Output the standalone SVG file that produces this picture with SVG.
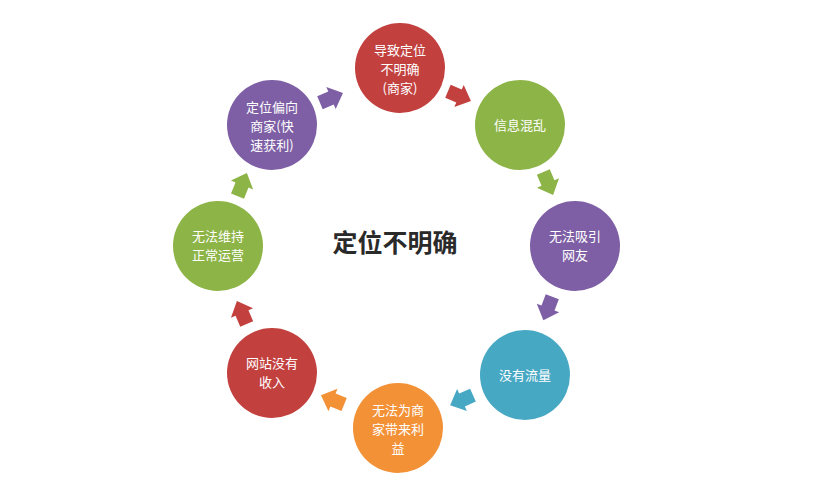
<svg xmlns="http://www.w3.org/2000/svg" width="816" height="485" viewBox="0 0 816 485">
<style>
.lbl{font-family:"Noto Sans CJK SC","Noto Sans",sans-serif;font-size:13px;fill:#ffffff;text-anchor:middle}
.title{font-family:"Noto Sans CJK SC","Noto Sans",sans-serif;font-size:25px;font-weight:bold;fill:#2a2a2a;text-anchor:middle}
.red{fill:#C2413F}.green{fill:#8DB446}.purple{fill:#7E5FA5}.blue{fill:#47A8C4}.orange{fill:#F39137}
</style>
<defs>
<path id="arr" d="M-12,-7 L0,-7 L0,-12 L13,0 L0,12 L0,7 L-12,7 Z"/>
</defs>
<rect width="816" height="485" fill="#ffffff"/>
<g id="connectors">
<use href="#arr" class="purple" transform="translate(331,98) rotate(-23)"/>
<use href="#arr" class="red" transform="translate(459,96) rotate(23)"/>
<use href="#arr" class="green" transform="translate(548,183) rotate(67)"/>
<use href="#arr" class="purple" transform="translate(548,308) rotate(111)"/>
<use href="#arr" class="blue" transform="translate(462,400) rotate(156)"/>
<use href="#arr" class="orange" transform="translate(333,400) rotate(202)"/>
<use href="#arr" class="red" transform="translate(242,313) rotate(247)"/>
<use href="#arr" class="green" transform="translate(242,185) rotate(292)"/>
</g>
<g id="center"><text class="title" x="395" y="252">定位不明确</text></g>
<g id="n1"><circle class="red" cx="400" cy="68" r="45"/>
<text class="lbl" x="400" y="55">导致定位</text><text class="lbl" x="400" y="74">不明确</text><text class="lbl" x="400" y="93">(商家)</text></g>
<g id="n2"><circle class="green" cx="520" cy="125" r="45"/>
<text class="lbl" x="520" y="130">信息混乱</text></g>
<g id="n3"><circle class="purple" cx="575" cy="246" r="45"/>
<text class="lbl" x="575" y="241">无法吸引</text><text class="lbl" x="575" y="260">网友</text></g>
<g id="n4"><circle class="blue" cx="525" cy="375" r="45"/>
<text class="lbl" x="525" y="380">没有流量</text></g>
<g id="n5"><circle class="orange" cx="398" cy="428" r="45"/>
<text class="lbl" x="398" y="415">无法为商</text><text class="lbl" x="398" y="434">家带来利</text><text class="lbl" x="398" y="453">益</text></g>
<g id="n6"><circle class="red" cx="272" cy="373" r="45"/>
<text class="lbl" x="272" y="368">网站没有</text><text class="lbl" x="272" y="387">收入</text></g>
<g id="n7"><circle class="green" cx="218" cy="246" r="45"/>
<text class="lbl" x="218" y="241">无法维持</text><text class="lbl" x="218" y="260">正常运营</text></g>
<g id="n8"><circle class="purple" cx="272" cy="125" r="45"/>
<text class="lbl" x="272" y="112">定位偏向</text><text class="lbl" x="272" y="131">商家(快</text><text class="lbl" x="272" y="150">速获利)</text></g>
</svg>
